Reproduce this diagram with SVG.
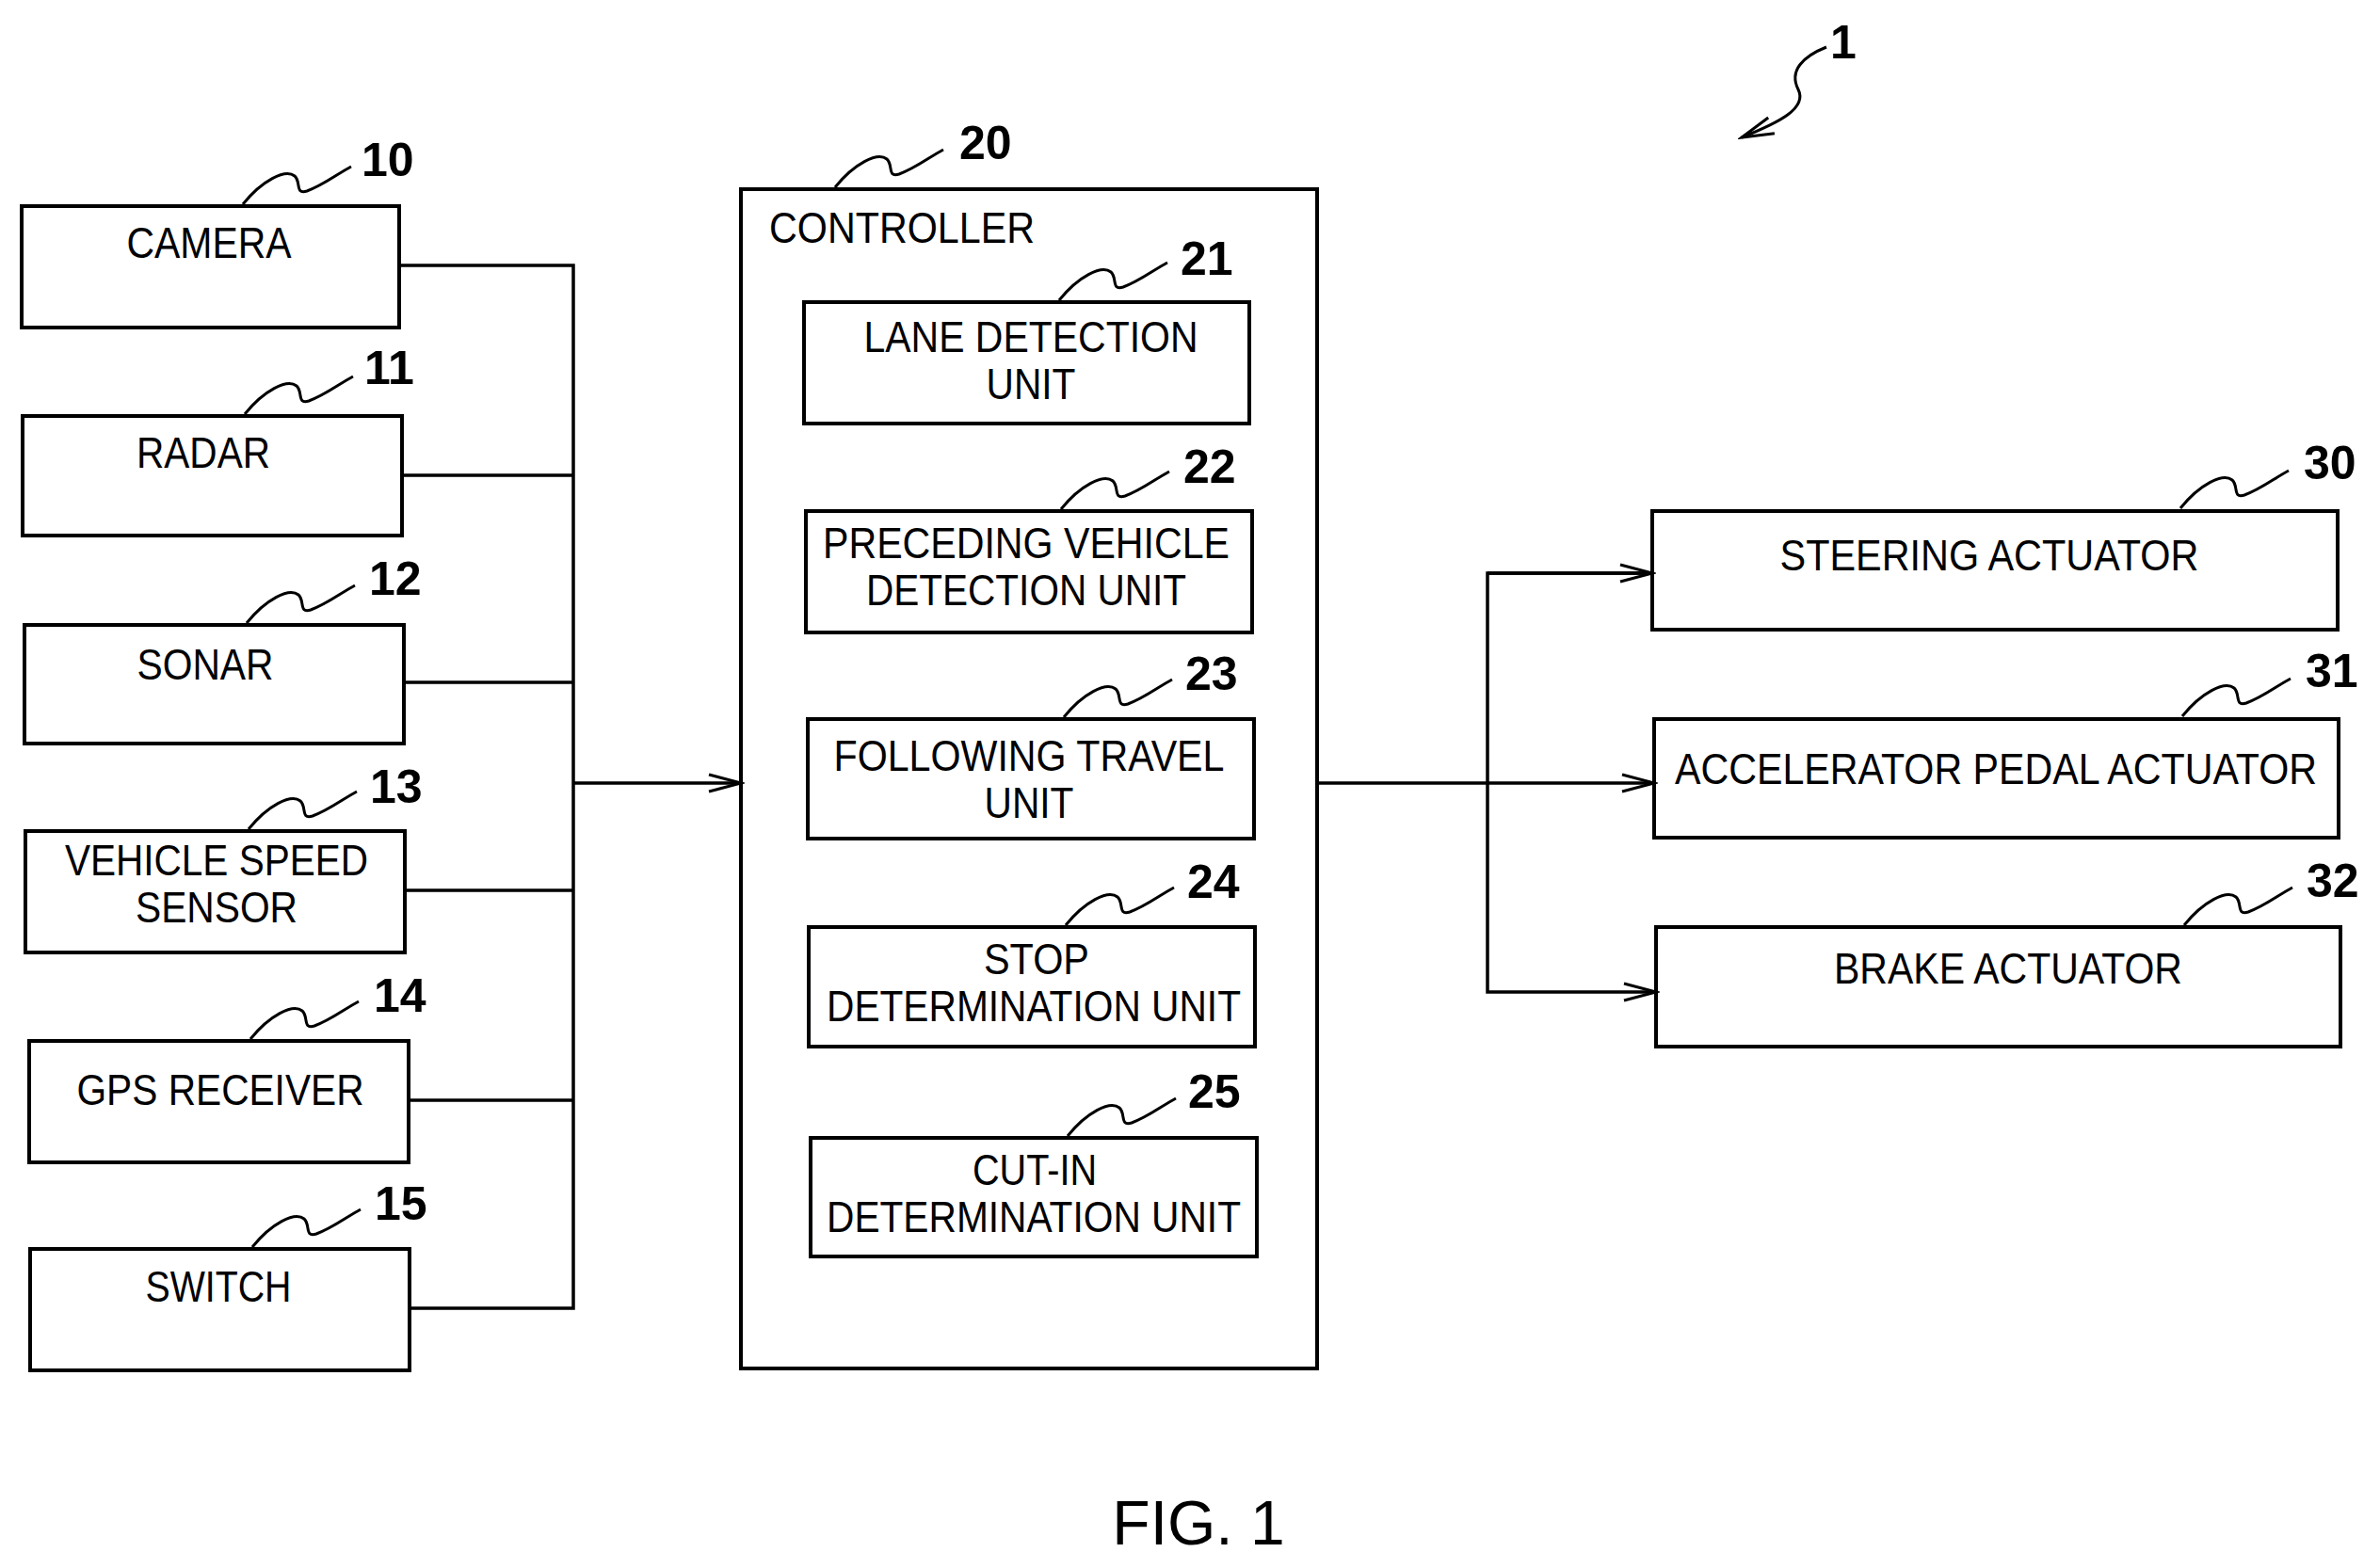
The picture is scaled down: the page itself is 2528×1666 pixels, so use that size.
<svg xmlns="http://www.w3.org/2000/svg" width="2528" height="1666" viewBox="0 0 2528 1666">
<style>
rect{fill:none;stroke:#000;stroke-width:4}
.c{stroke:#000;stroke-width:3.5;fill:none}
.t{font-family:"Liberation Sans",Arial,sans-serif;font-size:46px;text-anchor:middle}
.n{font-family:"Liberation Sans",Arial,sans-serif;font-size:50px;font-weight:bold}
.l{stroke:#000;stroke-width:3;fill:none}
</style>
<defs>
<marker id="a" markerWidth="40" markerHeight="24" refX="36" refY="12" markerUnits="userSpaceOnUse" orient="auto"><path d="M2,3 L36,12 L2,21" fill="none" stroke="#000" stroke-width="3"/></marker>
<path id="sq" d="M0,0 C20,-25 45,-38 55,-30 C62,-24 55,-10 68,-14 C85,-20 100,-32 115,-40"/>
</defs>
<rect x="0" y="0" width="2528" height="1666" style="fill:#fff;stroke:none"/>
<g id="n1"><text class="n" x="1944" y="62">1</text><path class="l" d="M1940,50 C1915,60 1900,75 1910,95 C1920,115 1890,130 1850,146" marker-end="url(#a)"/></g>
<g id="n10"><rect x="23" y="219" width="401" height="129"/><text class="t" x="222" y="274" textLength="175" lengthAdjust="spacingAndGlyphs">CAMERA</text><use href="#sq" class="l" x="258" y="217"/><text class="n" x="384" y="187">10</text></g>
<g id="n11"><rect x="24" y="442" width="403" height="127"/><text class="t" x="216" y="497" textLength="142" lengthAdjust="spacingAndGlyphs">RADAR</text><use href="#sq" class="l" x="260" y="440"/><text class="n" x="387" y="408">11</text></g>
<g id="n12"><rect x="26" y="664" width="403" height="126"/><text class="t" x="218" y="722" textLength="145" lengthAdjust="spacingAndGlyphs">SONAR</text><use href="#sq" class="l" x="262" y="662"/><text class="n" x="392" y="632">12</text></g>
<g id="n13"><rect x="27" y="883" width="403" height="129"/><text class="t" x="230" y="930" textLength="322" lengthAdjust="spacingAndGlyphs">VEHICLE SPEED</text><text class="t" x="230" y="980" textLength="172" lengthAdjust="spacingAndGlyphs">SENSOR</text><use href="#sq" class="l" x="264" y="881"/><text class="n" x="393" y="853">13</text></g>
<g id="n14"><rect x="31" y="1106" width="403" height="129"/><text class="t" x="234" y="1174" textLength="305" lengthAdjust="spacingAndGlyphs">GPS RECEIVER</text><use href="#sq" class="l" x="266" y="1104"/><text class="n" x="397" y="1075">14</text></g>
<g id="n15"><rect x="32" y="1327" width="403" height="129"/><text class="t" x="232" y="1383" textLength="155" lengthAdjust="spacingAndGlyphs">SWITCH</text><use href="#sq" class="l" x="268" y="1325"/><text class="n" x="398" y="1296">15</text></g>
<g id="n20"><rect x="787" y="201" width="612" height="1253"/><text class="t" x="958" y="258" textLength="282" lengthAdjust="spacingAndGlyphs">CONTROLLER</text><use href="#sq" class="l" x="887" y="199"/><text class="n" x="1019" y="169">20</text></g>
<g id="n21"><rect x="854" y="321" width="473" height="129"/><text class="t" x="1095" y="374" textLength="355" lengthAdjust="spacingAndGlyphs">LANE DETECTION</text><text class="t" x="1095" y="424" textLength="95" lengthAdjust="spacingAndGlyphs">UNIT</text><use href="#sq" class="l" x="1125" y="319"/><text class="n" x="1254" y="292">21</text></g>
<g id="n22"><rect x="856" y="543" width="474" height="129"/><text class="t" x="1090" y="593" textLength="432" lengthAdjust="spacingAndGlyphs">PRECEDING VEHICLE</text><text class="t" x="1090" y="643" textLength="340" lengthAdjust="spacingAndGlyphs">DETECTION UNIT</text><use href="#sq" class="l" x="1127" y="541"/><text class="n" x="1257" y="513">22</text></g>
<g id="n23"><rect x="858" y="764" width="474" height="127"/><text class="t" x="1093" y="819" textLength="415" lengthAdjust="spacingAndGlyphs">FOLLOWING TRAVEL</text><text class="t" x="1093" y="869" textLength="95" lengthAdjust="spacingAndGlyphs">UNIT</text><use href="#sq" class="l" x="1130" y="762"/><text class="n" x="1259" y="733">23</text></g>
<g id="n24"><rect x="859" y="985" width="474" height="127"/><text class="t" x="1101" y="1035" textLength="112" lengthAdjust="spacingAndGlyphs">STOP</text><text class="t" x="1098" y="1085" textLength="440" lengthAdjust="spacingAndGlyphs">DETERMINATION UNIT</text><use href="#sq" class="l" x="1132" y="983"/><text class="n" x="1261" y="954">24</text></g>
<g id="n25"><rect x="861" y="1209" width="474" height="126"/><text class="t" x="1099" y="1259" textLength="132" lengthAdjust="spacingAndGlyphs">CUT-IN</text><text class="t" x="1098" y="1309" textLength="440" lengthAdjust="spacingAndGlyphs">DETERMINATION UNIT</text><use href="#sq" class="l" x="1134" y="1207"/><text class="n" x="1262" y="1177">25</text></g>
<g id="n30"><rect x="1755" y="543" width="728" height="126"/><text class="t" x="2113" y="606" textLength="445" lengthAdjust="spacingAndGlyphs">STEERING ACTUATOR</text><use href="#sq" class="l" x="2316" y="540"/><text class="n" x="2447" y="509">30</text></g>
<g id="n31"><rect x="1757" y="764" width="727" height="126"/><text class="t" x="2120" y="833" textLength="682" lengthAdjust="spacingAndGlyphs">ACCELERATOR PEDAL ACTUATOR</text><use href="#sq" class="l" x="2318" y="761"/><text class="n" x="2449" y="730">31</text></g>
<g id="n32"><rect x="1759" y="985" width="727" height="127"/><text class="t" x="2133" y="1045" textLength="370" lengthAdjust="spacingAndGlyphs">BRAKE ACTUATOR</text><use href="#sq" class="l" x="2320" y="983"/><text class="n" x="2450" y="953">32</text></g>
<g id="connectors">
<path class="c" d="M424,282 H609 V1390 H435 M427,505 H609 M429,725 H609 M430,946 H609 M434,1169 H609"/>
<path class="c" d="M609,832 H787" marker-end="url(#a)"/>
<path class="c" d="M1399,832 H1757" marker-end="url(#a)"/>
<path class="c" d="M1755,609 H1580 V1054 H1759" marker-end="url(#a)"/>
<path class="c" d="M1580,609 H1755" marker-end="url(#a)"/>
</g>
<text x="1273" y="1641" style="font-family:'Liberation Sans',Arial,sans-serif;font-size:66px;text-anchor:middle">FIG. 1</text>
</svg>
